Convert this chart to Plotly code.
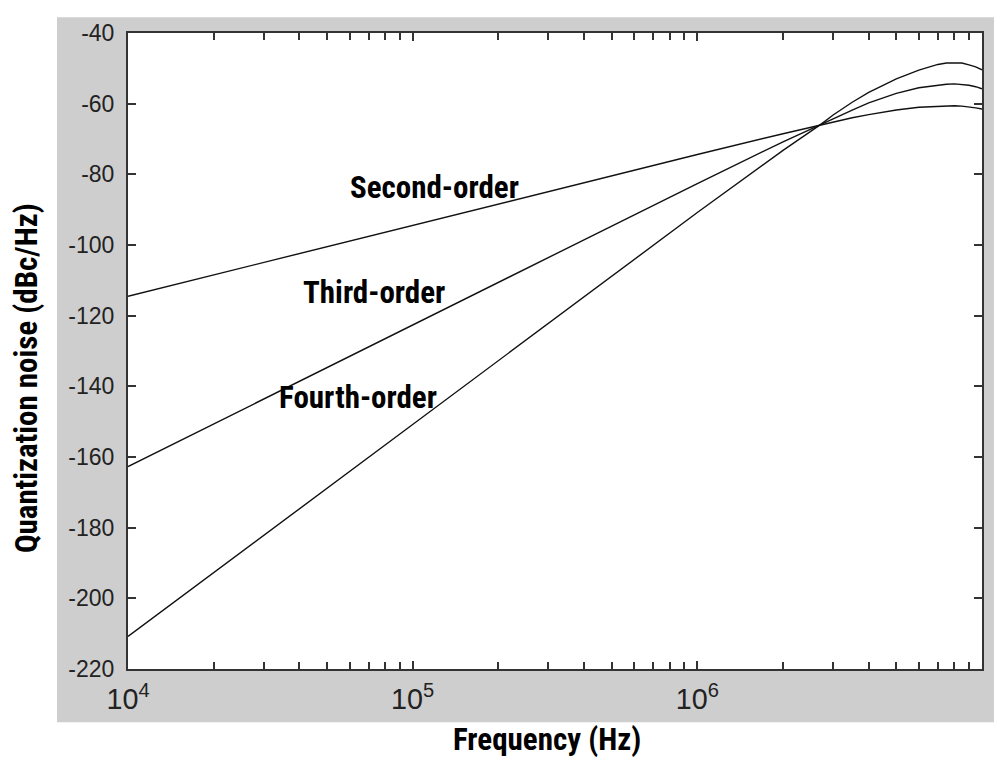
import plotly.graph_objects as go

# ---- data ----
freq_hz = [1e4, 3e4, 1e5, 3e5, 1e6, 2e6, 2.7e6, 3e6, 3.5e6, 4e6, 4.5e6, 5e6, 6e6, 7e6, 7.5e6, 8e6, 8.5e6, 9e6, 9.5e6, 1e7]
second_order = [-114.5, -104.9, -94.4, -84.9, -74.4, -68.5, -66.0, -65.1, -64.0, -63.1, -62.4, -61.8, -61.0, -60.7, -60.6, -60.6, -60.7, -60.9, -61.2, -61.5]
third_order = [-162.7, -143.6, -122.6, -103.4, -82.6, -70.8, -66.0, -64.1, -61.8, -59.8, -58.3, -57.1, -55.5, -54.7, -54.5, -54.4, -54.5, -54.8, -55.2, -55.8]
fourth_order = [-210.8, -182.2, -150.8, -122.0, -90.8, -73.2, -66.0, -63.2, -59.6, -56.8, -54.7, -53.0, -50.5, -48.9, -48.5, -48.4, -48.5, -49.0, -49.6, -50.4]

y_ticks = [-220, -200, -180, -160, -140, -120, -100, -80, -60, -40]
y_tick_text = ["-220", "-200", "-180", "-160", "-140", "-120", "-100", "-80", "-60", "-40"]
labels = ["Second-order", "Third-order", "Fourth-order"]

OFF = 8  # page body margin
W, H = 1002 - OFF, 764 - OFF
L, R, T, B = 128 - OFF, 982 - OFF, 24 - OFF, 669 - OFF  # plot area in figure pixels
pw, ph = R - L, B - T

def px(x):  # screen x -> paper
    return (x - OFF - L) / pw

def py(y):  # screen y -> paper
    return (B - (y - OFF)) / ph

fig = go.Figure()
for ys in (second_order, third_order, fourth_order):
    fig.add_trace(go.Scatter(x=freq_hz, y=ys, mode="lines",
                             line=dict(color="#111111", width=1.4),
                             showlegend=False, hoverinfo="skip"))

tickfont = dict(family="Liberation Sans, Arial, sans-serif", size=23, color="#222222")
titlefont = dict(family="Roboto Condensed, Liberation Sans, sans-serif",
                 size=31, color="#000000", weight="bold")

fig.update_layout(
    width=W, height=H,
    margin=dict(l=L, r=W - R, t=T, b=H - B, pad=0),
    paper_bgcolor="white",
    plot_bgcolor="white",
    showlegend=False,
    xaxis=dict(type="log", range=[4, 7], dtick=1, exponentformat="power",
               showgrid=False, zeroline=False,
               ticks="inside", ticklen=8, tickwidth=1.5, tickcolor="#333333",
               minor=dict(ticks="inside", ticklen=7, tickwidth=1.5, tickcolor="#333333", showgrid=False),
               showline=True, linecolor="#333333", linewidth=2, mirror="ticks",
               tickfont=tickfont, ticklabelstandoff=5),
    yaxis=dict(range=[-220, -40], tickvals=y_ticks, ticktext=y_tick_text,
               showgrid=False, zeroline=False,
               ticks="inside", ticklen=8, tickwidth=1.5, tickcolor="#333333",
               showline=True, linecolor="#333333", linewidth=2, mirror="ticks",
               tickfont=tickfont, ticklabelstandoff=7),
    shapes=[
        dict(type="rect", xref="paper", yref="paper", layer="below",
             x0=px(57), x1=px(1010), y0=py(723), y1=py(8),
             fillcolor="#cecece", line=dict(width=0)),
        dict(type="rect", xref="paper", yref="paper", layer="below",
             x0=0, x1=1, y0=0, y1=1,
             fillcolor="white", line=dict(width=0)),
    ],
)

# curve labels (screen coordinates of their centres)
label_pos = [(434.5, 181), (373.5, 287), (357.5, 394)]
for text, (x, y) in zip(labels, label_pos):
    fig.add_annotation(text=text, xref="paper", yref="paper", x=px(x), y=py(y),
                       showarrow=False, xanchor="center", yanchor="middle",
                       font=titlefont)

# axis titles
fig.add_annotation(text="Frequency (Hz)", xref="paper", yref="paper",
                   x=px(546.5), y=py(740), showarrow=False,
                   xanchor="center", yanchor="middle", font=titlefont)
fig.add_annotation(text="Quantization noise (dBc/Hz)", xref="paper", yref="paper",
                   x=px(26), y=py(374), showarrow=False, textangle=-90,
                   xanchor="center", yanchor="middle", font=titlefont)

fig.write_html("out.html")
